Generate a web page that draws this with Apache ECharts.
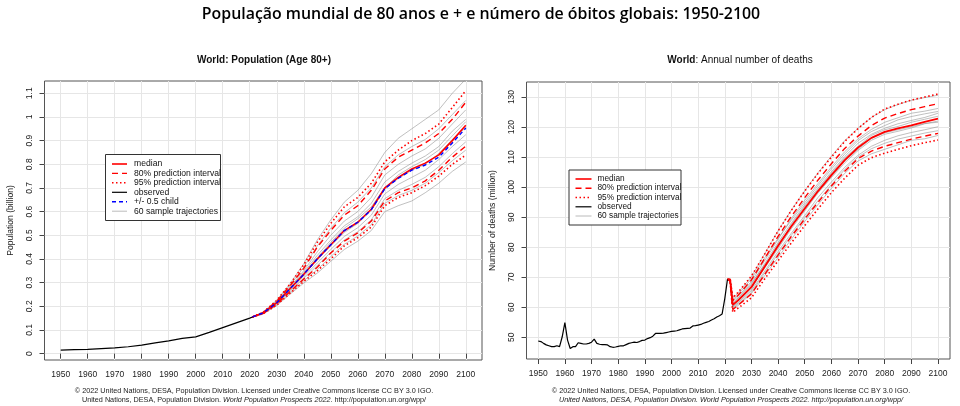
<!DOCTYPE html>
<html><head><meta charset="utf-8">
<script src="https://cdn.jsdelivr.net/npm/echarts@6/dist/echarts.min.js"></script>
<style>html,body{margin:0;padding:0;background:#fff}#c{width:960px;height:406px}</style>
</head><body><div id="c"></div>
<script>
// ---------- LEFT: World population aged 80+ (billion) ----------
const OBS_YEARS_L = [1950,1955,1960,1965,1970,1975,1980,1985,1990,1995,2000,2005,2010,2015,2020,2021];
const OBS_POP80 = [0.015,0.0165,0.018,0.021,0.024,0.029,0.036,0.045,0.054,0.064,0.071,0.09,0.11,0.13,0.15,0.155];
const PROJ_YEARS_L = [2021,2025,2030,2035,2040,2045,2050,2055,2060,2065,2070,2075,2080,2085,2090,2095,2100];
const POP_MEDIAN = [0.155,0.172,0.215,0.275,0.335,0.40,0.46,0.52,0.555,0.61,0.70,0.745,0.78,0.805,0.84,0.90,0.965];
const POP_CHILD  = [0.155,0.172,0.215,0.275,0.335,0.40,0.46,0.52,0.555,0.608,0.697,0.741,0.775,0.797,0.83,0.89,0.953];
const POP_UP80 = [0.155,0.174,0.221,0.288,0.36,0.45,0.52,0.585,0.625,0.69,0.78,0.83,0.86,0.89,0.93,0.99,1.062];
const POP_LO80 = [0.155,0.170,0.209,0.263,0.315,0.365,0.425,0.475,0.51,0.56,0.645,0.68,0.70,0.73,0.775,0.83,0.877];
const POP_UP95 = [0.155,0.175,0.225,0.295,0.375,0.47,0.55,0.62,0.66,0.72,0.81,0.86,0.90,0.93,0.97,1.04,1.111];
const POP_LO95 = [0.155,0.169,0.205,0.256,0.305,0.35,0.40,0.455,0.49,0.535,0.625,0.66,0.68,0.71,0.75,0.80,0.839];
const POP_TRAJ = [
  [0.155,0.176,0.226,0.297,0.38,0.48,0.565,0.64,0.69,0.76,0.85,0.91,0.95,0.99,1.03,1.10,1.16],
  [0.155,0.175,0.222,0.29,0.365,0.455,0.53,0.595,0.64,0.70,0.79,0.84,0.875,0.905,0.95,1.01,1.07],
  [0.155,0.174,0.219,0.283,0.35,0.43,0.50,0.56,0.60,0.66,0.755,0.80,0.835,0.865,0.91,0.97,1.03],
  [0.155,0.173,0.217,0.279,0.343,0.415,0.48,0.54,0.578,0.635,0.725,0.77,0.805,0.835,0.875,0.94,0.99],
  [0.155,0.172,0.214,0.273,0.333,0.395,0.455,0.512,0.55,0.605,0.695,0.74,0.775,0.80,0.845,0.905,0.955],
  [0.155,0.171,0.212,0.268,0.325,0.383,0.44,0.495,0.532,0.585,0.675,0.715,0.745,0.775,0.82,0.875,0.925],
  [0.155,0.170,0.21,0.264,0.318,0.372,0.428,0.48,0.515,0.565,0.655,0.69,0.715,0.745,0.79,0.845,0.895],
  [0.155,0.169,0.206,0.258,0.308,0.355,0.41,0.462,0.497,0.545,0.635,0.668,0.69,0.72,0.765,0.815,0.86],
  [0.155,0.168,0.203,0.252,0.298,0.34,0.39,0.44,0.475,0.52,0.60,0.625,0.645,0.68,0.72,0.77,0.81],
  [0.155,0.172,0.216,0.277,0.338,0.405,0.47,0.53,0.57,0.62,0.70,0.755,0.79,0.82,0.86,0.92,0.98]
];

// ---------- RIGHT: World annual number of deaths (million) ----------
const OBS_YEARS_R = [];
for (let y = 1950; y <= 2021; y++) OBS_YEARS_R.push(y);
const OBS_DEATHS = [48.8,48.6,48.0,47.5,47.2,46.9,46.9,47.2,46.9,50.2,54.9,49.1,46.3,46.9,46.9,48.2,48.0,47.8,47.8,48.0,
  48.4,49.4,48.0,47.7,47.6,47.6,47.5,46.9,46.7,46.8,47.0,47.2,47.2,47.6,48.0,48.2,48.4,48.3,48.6,49.0,
  49.1,49.6,49.9,50.4,51.3,51.3,51.3,51.4,51.6,51.8,52.0,52.1,52.2,52.5,52.8,52.9,53.0,53.1,53.8,53.9,
  54.1,54.3,54.7,55.0,55.3,55.8,56.2,56.8,57.2,57.8,62.9,69.3];
const PROJ_YEARS_R = [2021,2022,2023,2025,2030,2035,2040,2045,2050,2055,2060,2065,2070,2075,2080,2085,2090,2095,2100];
const D_MEDIAN = [69.3,69.1,60.8,62.3,66.8,73.6,80.5,87.0,92.9,98.7,104.0,109.0,113.2,116.4,118.4,119.6,120.6,121.7,122.8];
const D_UP80 = [69.3,69.4,62.3,64.0,69.1,76.3,83.6,90.3,96.5,102.4,107.8,112.9,117.0,120.5,123.0,124.5,125.8,126.8,127.8];
const D_LO80 = [69.3,68.8,59.3,60.7,64.5,71.0,77.4,83.6,89.4,95.0,100.4,105.3,109.5,112.0,113.6,114.8,116.0,117.0,117.9];
const D_UP95 = [69.3,69.6,63.2,65.0,70.4,77.8,85.4,92.3,98.7,104.6,110.0,115.2,119.5,123.2,126.0,127.6,129.0,130.0,131.0];
const D_LO95 = [69.3,68.5,58.3,59.7,63.2,69.5,75.5,81.5,87.2,92.8,98.2,103.0,107.3,109.8,111.3,112.6,113.8,114.8,115.7];
const D_TRAJ = [
  [69.3,69.5,62.8,64.8,70.2,77.8,85.5,92.4,98.8,104.8,110.3,115.5,119.6,123.2,125.8,127.5,128.9,129.8,130.6],
  [69.3,69.3,61.9,63.6,68.6,75.6,82.6,89.6,95.6,101.2,106.7,111.8,116.1,119.2,121.6,123.1,124.6,125.3,126.2],
  [69.3,69.2,61.3,62.9,67.6,74.6,81.6,88.1,94.1,99.7,105.1,110.2,114.6,117.6,119.6,121.1,122.2,123.2,124.6],
  [69.3,69.0,60.6,62.1,66.5,73.1,79.6,86.2,92.1,98.1,103.2,108.1,112.2,115.6,117.6,118.6,119.7,121.1,122.0],
  [69.3,68.9,60.1,61.4,65.6,72.1,78.6,84.7,90.6,96.6,101.7,106.6,110.6,113.6,115.6,117.1,118.2,119.1,120.1],
  [69.3,68.6,59.2,60.6,64.6,70.6,76.6,82.7,88.6,94.2,99.6,104.6,108.7,111.1,112.6,114.1,115.6,116.1,117.2],
  [69.3,69.2,61.1,63.1,68.1,74.2,80.2,87.6,93.6,99.2,104.6,109.7,113.6,117.2,119.1,120.2,121.6,122.6,123.6],
  [69.3,69.0,60.4,61.6,66.1,73.6,81.1,87.1,92.6,98.6,103.6,108.7,112.6,116.2,118.1,119.1,120.1,121.2,121.6],
  [69.3,69.4,62.2,64.2,69.5,76.5,83.0,89.0,94.8,100.5,106.0,111.0,115.5,118.5,120.5,122.4,123.5,124.4,125.2],
  [69.3,68.8,59.8,61.0,65.0,71.5,77.8,84.0,89.9,95.5,100.8,105.9,110.0,112.8,114.6,116.0,117.0,118.0,118.8]
];

const X_TICKS = [1950,1960,1970,1980,1990,2000,2010,2020,2030,2040,2050,2060,2070,2080,2090,2100];
const POP_TICKS = [0,0.1,0.2,0.3,0.4,0.5,0.6,0.7,0.8,0.9,1,1.1];
const D_TICKS = [50,60,70,80,90,100,110,120,130];

const LEGEND_L = ['median','80% prediction interval','95% prediction interval','observed','+/- 0.5 child','60 sample trajectories'];
const LEGEND_R = ['median','80% prediction interval','95% prediction interval','observed','60 sample trajectories'];

// ---------- build ----------
const zip = (xs, ys) => xs.map((x, i) => [x, ys[i]]);
const RED = '#ff0000';
const ST = {
  median: {color: RED, width: 1.6, type: 'solid'},
  p80: {color: RED, width: 1.4, type: [6, 4]},
  p95: {color: RED, width: 1.6, type: [1.5, 2.5]},
  obs: {color: '#000', width: 1.2, type: 'solid'},
  child: {color: '#0000ff', width: 1.4, type: [4, 3]},
  traj: {color: '#8c8c8c', width: 1, type: 'solid', opacity: 0.55}
};
function line(name, gi, data, style, z) {
  return {type: 'line', name, xAxisIndex: gi, yAxisIndex: gi, data, showSymbol: false, symbol: 'none',
    smooth: false, silent: true, animation: false, z: z || 2, lineStyle: style, clip: true};
}
const series = [];
POP_TRAJ.forEach(t => series.push(line('60 sample trajectories', 0, zip(PROJ_YEARS_L, t), ST.traj, 1)));
series.push(line('95% prediction interval', 0, zip(PROJ_YEARS_L, POP_UP95), ST.p95, 3));
series.push(line('95% prediction interval', 0, zip(PROJ_YEARS_L, POP_LO95), ST.p95, 3));
series.push(line('80% prediction interval', 0, zip(PROJ_YEARS_L, POP_UP80), ST.p80, 3));
series.push(line('80% prediction interval', 0, zip(PROJ_YEARS_L, POP_LO80), ST.p80, 3));
series.push(line('median', 0, zip(PROJ_YEARS_L, POP_MEDIAN), ST.median, 4));
series.push(line('+/- 0.5 child', 0, zip(PROJ_YEARS_L, POP_CHILD), ST.child, 5));
series.push(line('observed', 0, zip(OBS_YEARS_L, OBS_POP80), ST.obs, 6));

D_TRAJ.forEach(t => series.push(line('60 sample trajectories', 1, zip(PROJ_YEARS_R, t), ST.traj, 1)));
series.push(line('95% prediction interval', 1, zip(PROJ_YEARS_R, D_UP95), ST.p95, 3));
series.push(line('95% prediction interval', 1, zip(PROJ_YEARS_R, D_LO95), ST.p95, 3));
series.push(line('80% prediction interval', 1, zip(PROJ_YEARS_R, D_UP80), ST.p80, 3));
series.push(line('80% prediction interval', 1, zip(PROJ_YEARS_R, D_LO80), ST.p80, 3));
series.push(line('observed', 1, zip(OBS_YEARS_R, OBS_DEATHS), ST.obs, 6));
series.push(line('median', 1, zip(PROJ_YEARS_R, D_MEDIAN), Object.assign({}, ST.median, {width: 1.8}), 4));

const FONT = 'Liberation Sans, Arial, sans-serif';
const GRIDLINE = {show: true, lineStyle: {color: '#e6e6e6', width: 1}};
function xAxis(gi, min, max) {
  return {type: 'value', gridIndex: gi, min, max, splitNumber: 16,
    axisLine: {show: false},
    axisTick: {show: true, inside: false, length: 5, lineStyle: {color: '#444'}, customValues: X_TICKS},
    axisLabel: {show: true, customValues: X_TICKS, margin: 10.5, color: '#222', fontFamily: FONT, fontSize: 8.5,
      formatter: v => String(v)},
    splitLine: GRIDLINE};
}
function yAxis(gi, min, max, ticks, name, gap, split) {
  return {type: 'value', gridIndex: gi, min, max, splitNumber: split,
    name, nameLocation: 'middle', nameRotate: 90, nameGap: gap,
    nameTextStyle: {fontFamily: FONT, fontSize: 8.6, color: '#222'},
    axisLine: {show: false},
    axisTick: {show: true, inside: false, length: 5, lineStyle: {color: '#444'}, customValues: ticks},
    axisLabel: {show: true, customValues: ticks, rotate: 90, margin: 10, color: '#222', fontFamily: FONT, fontSize: 8.5,
      formatter: v => String(Math.round(v * 1000) / 1000)},
    splitLine: GRIDLINE};
}

// legend drawn as graphic elements (R-style boxed legend)
function legendGraphic(items, box, lx0, lx1, tx, ys, fs, styles) {
  const els = [{type: 'rect', shape: {x: box[0], y: box[1], width: box[2], height: box[3]},
    style: {fill: '#fff', stroke: '#333', lineWidth: 1}, z: 10, silent: true}];
  items.forEach((name, i) => {
    const s = styles[i];
    els.push({type: 'line', shape: {x1: lx0, y1: ys[i], x2: lx1, y2: ys[i]},
      style: {stroke: s.color, lineWidth: s.width, lineDash: Array.isArray(s.type) ? s.type : null,
        opacity: s === ST.traj ? 0.6 : 1}, z: 11, silent: true});
    els.push({type: 'text', x: tx, y: ys[i], style: {text: name, fill: '#111', font: fs + 'px ' + FONT,
      textVerticalAlign: 'middle', verticalAlign: 'middle'}, z: 11, silent: true});
  });
  return els;
}
const gL = legendGraphic(LEGEND_L, [105.5, 154.5, 115, 66], 112, 127, 134,
  [164, 173.4, 182.8, 192.3, 201.8, 211.2], 8.6, [ST.median, ST.p80, ST.p95, ST.obs, ST.child, ST.traj]);
const gR = legendGraphic(LEGEND_R, [569, 170, 112, 55], 575.5, 591.5, 597.5,
  [179, 188.2, 197.5, 206.8, 216], 8.3, [ST.median, ST.p80, ST.p95, ST.obs, ST.traj]);

const FOOT1 = '© 2022 United Nations, DESA, Population Division. Licensed under Creative Commons license CC BY 3.0 IGO.';
const FOOT2A = 'United Nations, DESA, Population Division. ';
const FOOT2B = 'World Population Prospects 2022';
const FOOT2C = '. http://population.un.org/wpp/';
function footer(cx, allItalic) {
  return [
    {type: 'text', x: cx, y: 391, style: {text: FOOT1, fill: '#222', font: '7.25px ' + FONT, align: 'center', verticalAlign: 'middle'}, silent: true},
    {type: 'text', x: cx, y: 400, style: {
      text: allItalic ? '{i|' + FOOT2A + FOOT2B + FOOT2C + '}' : '{n|' + FOOT2A + '}{i|' + FOOT2B + '}{n|' + FOOT2C + '}',
      rich: {n: {fontFamily: FONT, fontSize: 7.25, fill: '#222', color: '#222'},
             i: {fontFamily: FONT, fontSize: 7.25, fontStyle: 'italic', fill: '#222', color: '#222'}},
      fill: '#222', align: 'center', verticalAlign: 'middle'}, silent: true}
  ];
}

const option = {
  animation: false,
  backgroundColor: '#fff',
  title: [
    {text: 'População mundial de 80 anos e + e número de óbitos globais: 1950-2100', left: 481, top: 6.5, textAlign: 'center', padding: 0,
      textStyle: {fontFamily: 'Open Sans', fontSize: 15.9, fontWeight: 600, color: '#000'}},
    {text: 'World: Population (Age 80+)', left: 264, top: 55, textAlign: 'center', padding: 0,
      textStyle: {fontFamily: FONT, fontSize: 10, fontWeight: 'bold', color: '#111'}},
    {text: '{b|World}: Annual number of deaths', left: 740, top: 55, textAlign: 'center', padding: 0,
      textStyle: {fontFamily: FONT, fontSize: 10, fontWeight: 'normal', color: '#111',
        rich: {b: {fontFamily: FONT, fontSize: 10, fontWeight: 'bold', color: '#111'}}}}
  ],
  grid: [
    {left: 44.5, right: 960 - 482, top: 81, bottom: 406 - 360, show: true, borderColor: '#555', borderWidth: 1, containLabel: false},
    {left: 526.5, right: 10, top: 82, bottom: 406 - 359, show: true, borderColor: '#555', borderWidth: 1, containLabel: false}
  ],
  xAxis: [xAxis(0, 1944, 2106), xAxis(1, 1945.6, 2104.5)],
  yAxis: [yAxis(0, -0.027, 1.152, POP_TICKS, 'Population (billion)', 29.5, 12),
          yAxis(1, 42.8, 135, D_TICKS, 'Number of deaths (million)', 29, 9)],
  series,
  graphic: {elements: [].concat(gL, gR, footer(254, false), footer(731, true))}
};
const chart = echarts.init(document.getElementById('c'), null, {renderer: 'canvas'});
chart.setOption(option);
</script></body></html>
